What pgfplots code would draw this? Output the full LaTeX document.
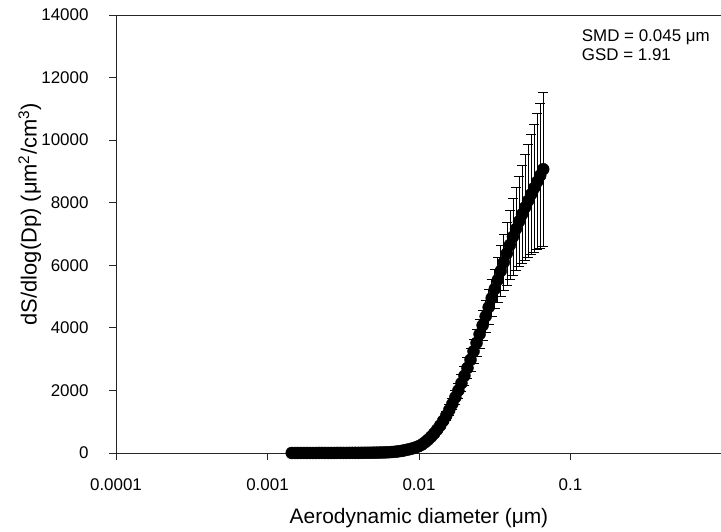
\documentclass[border=0pt]{standalone}
\usepackage{fontspec}
\setmainfont{Liberation Sans}
\usepackage{pgfplots}
\usepackage{pgfplotstable}
\pgfplotsset{compat=1.18}

\pgfplotstableread{
x y e
0.0014454 1 0
0.0015136 1 0
0.0015849 1 0
0.0016596 1 0
0.0017378 1 0
0.0018197 1 0
0.0019055 1 0
0.0019953 1 0
0.0020893 1 0
0.0021878 2 0
0.0022909 2 0
0.0023988 2 0
0.0025119 2 0
0.0026303 2 0
0.0027542 2 0
0.0028840 3 0
0.0030200 3 0
0.0031623 3 0
0.0033113 3 0
0.0034674 4 0
0.0036308 4 1
0.0038019 5 1
0.0039811 5 1
0.0041687 6 1
0.0043652 7 1
0.0045709 8 1
0.0047863 9 1
0.0050119 10 1
0.0052481 12 1
0.0054954 14 2
0.0057544 17 2
0.0060256 20 2
0.0063096 25 3
0.0066069 31 4
0.0069183 39 5
0.0072444 50 6
0.0075858 64 8
0.0079433 82 10
0.0083176 102 12
0.0087096 125 15
0.0091201 150 18
0.0095499 182 22
0.010000 222 27
0.010471 272 33
0.010965 345 41
0.011482 425 51
0.012023 520 62
0.012589 625 75
0.013183 745 89
0.013804 880 106
0.014454 1030 124
0.015136 1195 143
0.015849 1375 165
0.016596 1570 188
0.017378 1780 214
0.018197 2000 240
0.019055 2230 268
0.019953 2470 296
0.020893 2720 326
0.021878 2980 358
0.022909 3250 390
0.023988 3520 422
0.025119 3800 456
0.026303 4080 490
0.027542 4370 524
0.028840 4660 559
0.030200 4950 594
0.031623 5240 629
0.033113 5530 713
0.034674 5820 809
0.036308 6100 903
0.038019 6380 1008
0.039811 6650 1111
0.041687 6910 1216
0.043652 7160 1332
0.045709 7400 1443
0.047863 7630 1557
0.050119 7850 1680
0.052481 8060 1797
0.054954 8270 1927
0.057544 8470 2050
0.060256 8670 2176
0.063096 8870 2315
0.066069 9070 2449
}\data

\begin{document}
\begin{tikzpicture}
\useasboundingbox (-116bp,-79bp) rectangle (605bp,453bp);
\begin{axis}[
  at={(0,0)}, anchor=south west,
  scale only axis,
  width=606bp, height=438bp,
  xmode=log,
  xmin=0.0001, xmax=1,
  ymin=0, ymax=14000,
  axis x line*=bottom,
  axis y line*=left,
  axis line style={line width=0.9bp, black!85},
  xtick={0.0001,0.001,0.01,0.1},
  xticklabels={0.0001,0.001,0.01,0.1},
  ytick={0,2000,4000,6000,8000,10000,12000,14000},
  yticklabels={0,2000,4000,6000,8000,10000,12000,14000},
  scaled y ticks=false,
  scaled x ticks=false,
  xminorticks=false,
  yminorticks=false,
  tick align=outside,
  major tick length=7bp,
  tick style={line width=0.9bp, black!85},
  ticklabel style={font=\fontsize{17}{20}\selectfont},
  xticklabel style={anchor=base, yshift=-30bp},
  yticklabel style={anchor=east, xshift=-17bp},
  xlabel={Aerodynamic diameter (μm)},
  ylabel={dS/dlog(Dp) (μm\textsuperscript{2}/cm\textsuperscript{3})},
  xlabel style={font=\fontsize{21}{25}\selectfont, at={(axis description cs:0.5,-0.16)}, anchor=base},
  ylabel style={font=\fontsize{22}{26}\selectfont, at={(axis description cs:-0.131,0.545)}, anchor=base, rotate=0},
  clip=false,
]
\addplot[only marks, mark=*, mark size=6bp, black,
  error bars/.cd, y dir=both, y explicit,
  error bar style={line width=0.7bp, black},
  error mark options={rotate=90, mark size=5bp, line width=0.7bp, black}]
  table[x=x, y=y, y error=e] {\data};
\draw[line width=0.9bp, black!85] (rel axis cs:0,1) -- (rel axis cs:1,1);
\node[anchor=base west, font=\fontsize{17}{20}\selectfont, inner sep=0pt] at (axis description cs:0.7685,0.939) {SMD = 0.045 μm};
\node[anchor=base west, font=\fontsize{17}{20}\selectfont, inner sep=0pt] at (axis description cs:0.7685,0.897) {GSD = 1.91};
\end{axis}
\end{tikzpicture}
\end{document}
